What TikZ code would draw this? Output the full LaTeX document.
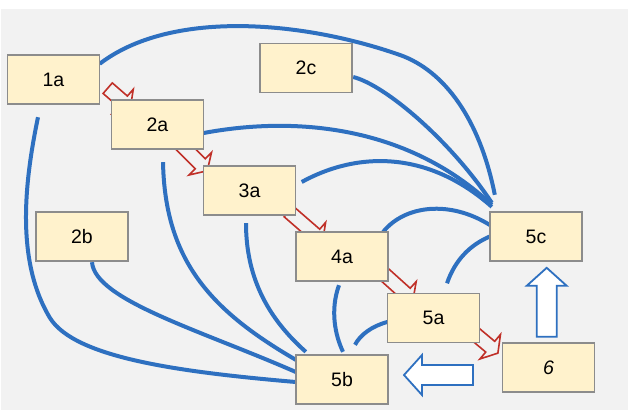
\documentclass[tikz,border=0pt]{standalone}
\usepackage{fontspec}
\setmainfont{Liberation Sans}
\usetikzlibrary{calc}
\definecolor{bg}{RGB}{242,242,242}
\definecolor{boxfill}{RGB}{255,242,204}
\definecolor{boxline}{RGB}{140,140,140}
\definecolor{curveblue}{RGB}{46,112,192}
\definecolor{arrred}{RGB}{192,48,40}
\begin{document}
\begin{tikzpicture}[x=1pt,y=-1pt,
  box/.style={draw=boxline, line width=1.2pt, fill=boxfill, minimum width=92pt, minimum height=49pt, inner sep=0pt, font=\fontsize{19.5}{23}\selectfont},
  link/.style={draw=curveblue, line width=4pt},
  pics/redarrow/.style={code={\draw[arrred, line width=1.6pt, line join=miter] (0,-7) -- (#1,-7) -- (#1,-16) -- (#1+10,0) -- (#1,16) -- (#1,7) -- (0,7) -- cycle;}},
  pics/blockarrow/.style={code={\draw[curveblue, line width=1.8pt, fill=white] (0,-10) -- (51,-10) -- (51,-20) -- (69,0) -- (51,20) -- (51,10) -- (0,10) -- cycle;}}
]
\useasboundingbox (0,0) rectangle (628,415);
\fill[white] (0,0) rectangle (628,415);
\fill[bg] (1,9) rectangle (628,410);

% node placeholders (coordinates of box centres)
\coordinate (c1a) at (53.5,79.5);
\coordinate (c2a) at (157.5,124.5);
\coordinate (c3a) at (249.5,190.5);
\coordinate (c2c) at (306,68);
\coordinate (c2b) at (82,236.5);
\coordinate (c4a) at (342,256.5);
\coordinate (c5a) at (433.5,318);
\coordinate (c5b) at (342,379.5);
\coordinate (c5c) at (536,236.5);
\coordinate (c6) at (548.5,367.5);

% boxes defined first (invisible) for anchors
\begin{scope}[every node/.style={minimum width=92pt, minimum height=49pt, inner sep=0pt}]
\node (n1a) at (c1a) {};
\node (n2a) at (c2a) {};
\node (n3a) at (c3a) {};
\node (n2c) at (c2c) {};
\node (n2b) at (c2b) {};
\node (n4a) at (c4a) {};
\node (n5a) at (c5a) {};
\node (n5b) at (c5b) {};
\node (n5c) at (c5c) {};
\node (n6) at (c6) {};
\end{scope}

% blue curves to 5c
\draw[link] ($(n1a.north east)+(0,9)$) .. controls (170,10) and (300,20) .. (400,55)
   .. controls (445,71) and (480,120) .. ($(n5c.north west)+(5,-17)$);
\draw[link] ($(n2c.east)+(1,9)$) .. controls (385,85) and (450,140) .. ($(n5c.north west)+(2,-9)$);
\draw[link] ($(n2a.east)+(0,8.5)$) .. controls (300,115) and (410,128) .. ($(n5c.north west)+(2,-7)$);
\draw[link] ($(n3a.east)+(6,-8.5)$) .. controls (360,150) and (430,152) .. ($(n5c.north west)+(2,-5)$);
\draw[link] ($(n4a.north east)+(-5,0)$) .. controls (405,205) and (450,200) .. ($(n5c.west)+(0,-11.5)$);
\draw[link] ($(n5a.north)+(13.5,-10)$) .. controls (455,260) and (470,245) .. (n5c.west);

% blue curves to 5b
\draw[link] ($(n5a.west)+(0,4)$) .. controls (372,326) and (360,335) .. ($(n5b.north)+(13,-10)$);
\draw[link] ($(n4a.south)+(-3,4)$) .. controls (330,310) and (335,335) .. ($(n5b.north)+(1,-3)$);
\draw[link] ($(n3a.south)+(-3.5,8)$) .. controls (246,280) and (270,320) .. ($(n5b.north west)+(10,-3)$);
\draw[link] ($(n2a.south)+(5.5,13)$) .. controls (165,260) and (210,310) .. ($(n5b.north west)+(0,5)$);
\draw[link] ($(n2b.south)+(10,1)$) .. controls (95,300) and (200,330) .. ($(n5b.west)+(0,-7.5)$);
\draw[link] ($(n1a.south)+(-15.5,13)$) .. controls (25,180) and (15,260) .. (50,318)
   .. controls (75,358) and (180,372) .. ($(n5b.west)+(0,2.5)$);

% red hollow arrows (behind boxes)
\pic[rotate=-41] at ($(n1a.south east)+(8,-16)$) {redarrow=20};
\pic[rotate=-45] at ($(n2a.south east)+(-28.25,-10.25)$) {redarrow=35};
\pic[rotate=-41] at ($(n3a.south east)+(-7,-3.7)$) {redarrow=35};
\pic[rotate=-42] at ($(n4a.south east)+(-8.7,-11.2)$) {redarrow=35};
\pic[rotate=-40] at ($(n5a.south east)+(-16.3,-18.5)$) {redarrow=35};

% boxes
\node[box] (b1a) at (c1a) {1a};
\node[box] (b2a) at (c2a) {2a};
\node[box] (b3a) at (c3a) {3a};
\node[box] (b2c) at (c2c) {2c};
\node[box] (b2b) at (c2b) {2b};
\node[box] (b4a) at (c4a) {4a};
\node[box] (b5a) at (c5a) {5a};
\node[box] (b5b) at (c5b) {5b};
\node[box] (b5c) at (c5c) {5c};
\node[box] (b6) at (c6) {\itshape 6};

% blue block arrows
\pic[rotate=90] at ($(n6.north)+(-1.8,-6)$) {blockarrow};
\pic[rotate=180] at ($(n6.west)+(-29.3,7.5)$) {blockarrow};
\end{tikzpicture}
\end{document}
